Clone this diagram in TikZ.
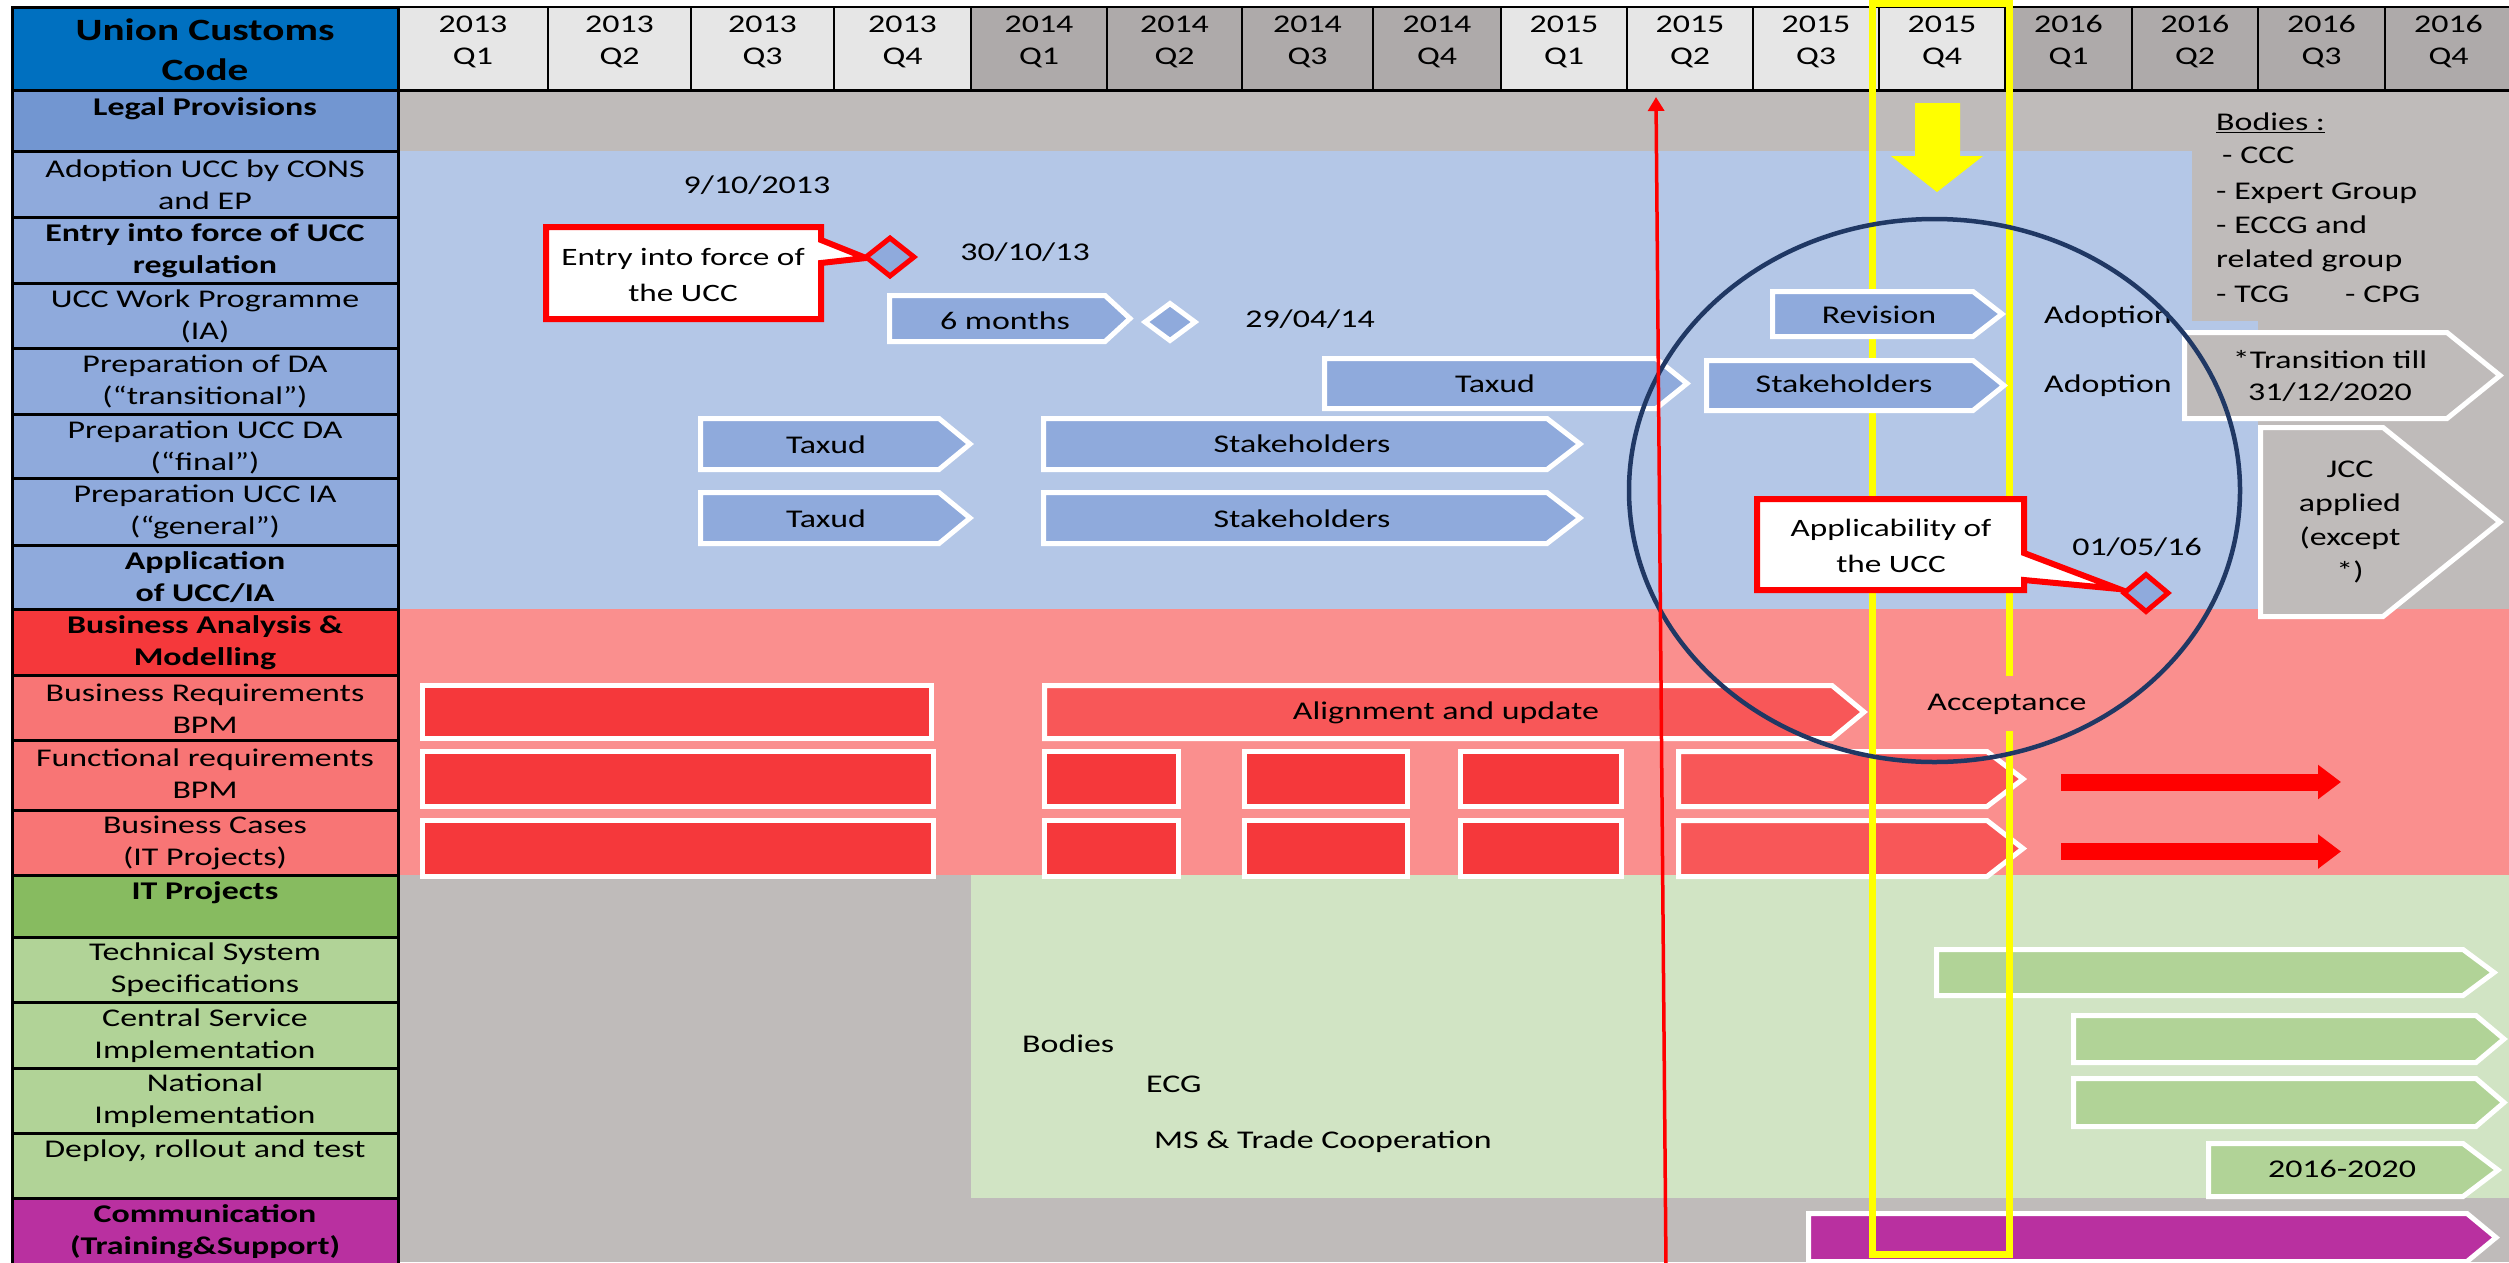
\documentclass[tikz,border=0pt]{standalone}
\usepackage{fontspec}
\setmainfont{Carlito}[FakeStretch=1.33]
\usetikzlibrary{shapes.geometric,arrows.meta}
\definecolor{bgrey}{RGB}{191,187,186}
\definecolor{bandblue}{RGB}{180,199,231}
\definecolor{arrblue}{RGB}{143,170,220}
\definecolor{hdrblue}{RGB}{0,112,192}
\definecolor{legalblue}{RGB}{114,150,209}
\definecolor{rowblue}{RGB}{143,170,220}
\definecolor{bandred}{RGB}{250,143,142}
\definecolor{barred}{RGB}{245,56,59}
\definecolor{penred}{RGB}{248,87,88}
\definecolor{rowred}{RGB}{248,117,117}
\definecolor{bandgreen}{RGB}{209,228,196}
\definecolor{pengreen}{RGB}{177,211,151}
\definecolor{itgreen}{RGB}{135,187,96}
\definecolor{purp}{RGB}{185,48,160}
\definecolor{lightcell}{RGB}{230,230,230}
\definecolor{darkcell}{RGB}{174,170,170}
\definecolor{navy}{RGB}{32,56,100}
\definecolor{yell}{RGB}{255,255,0}
\newcommand\lcell[7]{\draw[cellline, fill=#4] (12,#2) rectangle (398,#3); \node[txt,#6] (#1) at (205,#5) {#7};}
\newcommand\chev[6]{\draw[#1] (#2+2.5,#3+2.5) -- (#4-#6,#3+2.5) -- (#4-3,{(#3+#5)/2}) -- (#4-#6,#5-2.5) -- (#2+2.5,#5-2.5) -- cycle;}
\newcommand\rbar[4]{\draw[wbox, fill=barred] (#1+2.5,#2+2.5) rectangle (#3-2.5,#4-2.5);}
\begin{document}
\begin{tikzpicture}[x=1pt,y=-1pt,
  txt/.style={font=\fontsize{25.5}{32}\selectfont, inner sep=0, align=center, text=black},
  bftxt/.style={font=\bfseries\fontsize{25.5}{32}\selectfont},
  one/.style={text height=18, text depth=3},
  cellline/.style={draw=black, line width=3},
  wbox/.style={draw=white, line width=5, line join=miter},
  callout/.style={fill=white, draw=red, line width=6, line join=miter},
  coltxt/.style={font=\fontsize{25}{36}\selectfont},
  dia/.style={diamond, line width=5, fill=arrblue, inner sep=0}]
\useasboundingbox (0,0) rectangle (2509,1262);
\fill[white] (0,0) rectangle (2509,1262);
% bands
\fill[bgrey] (398,90) rectangle (2509,1262);
\fill[bandblue] (398,151) rectangle (2192,609);
\fill[bandblue] (2192,321) rectangle (2258,609);
\fill[bandred] (398,609) rectangle (2509,875);
\fill[bandgreen] (971,875) rectangle (2509,1198);
% header columns
\foreach \a/\b/\yr/\q/\c [count=\i] in {398/548/2013/Q1/lightcell, 548/691/2013/Q2/lightcell, 691/834/2013/Q3/lightcell, 834/971/2013/Q4/lightcell, 971/1107/2014/Q1/darkcell, 1107/1242/2014/Q2/darkcell, 1242/1373/2014/Q3/darkcell, 1373/1501/2014/Q4/darkcell, 1501/1627/2015/Q1/lightcell, 1627/1753/2015/Q2/lightcell, 1753/1879/2015/Q3/lightcell, 1879/2005/2015/Q4/lightcell, 2005/2132/2016/Q1/darkcell, 2132/2258/2016/Q2/darkcell, 2258/2385/2016/Q3/darkcell, 2385/2512/2016/Q4/darkcell}
{ \draw[fill=\c, draw=black, line width=2] (\a,7) rectangle (\b,90);
  \node[txt] (hd\i) at ({(\a+\b)/2},42) {\yr\\\q}; }
\draw[line width=3] (398,90) -- (2509,90);
% left column
\lcell{lc0}{7}{90}{hdrblue}{50}{font=\bfseries\fontsize{31}{40}\selectfont}{Union Customs\\Code}
\lcell{lc1}{90}{151}{legalblue}{109}{bftxt}{Legal Provisions}
\lcell{lc2}{151}{217.5}{rowblue}{185}{}{Adoption UCC by CONS\\and EP}
\lcell{lc3}{217.5}{283}{rowblue}{251}{bftxt}{Entry into force of UCC\\regulation}
\lcell{lc4}{283}{348}{rowblue}{316}{}{UCC Work Programme\\(IA)}
\lcell{lc5}{348}{414}{rowblue}{381.5}{}{Preparation of DA\\(“transitional”)}
\lcell{lc6}{414}{478}{rowblue}{447}{}{Preparation UCC DA\\(“final”)}
\lcell{lc7}{478}{545}{rowblue}{512}{}{Preparation UCC IA\\(“general”)}
\lcell{lc8}{545}{609}{rowblue}{577}{bftxt}{Application\\of UCC/IA}
\lcell{lc9}{609}{675}{barred}{643}{bftxt}{Business Analysis \&\\Modelling}
\lcell{lc10}{675}{740}{rowred}{709}{}{Business Requirements\\BPM}
\lcell{lc11}{740}{810}{rowred}{774}{}{Functional requirements\\BPM}
\lcell{lc12}{810}{875}{rowred}{843}{}{Business Cases\\(IT Projects)}
\lcell{lc13}{875}{937}{itgreen}{893}{bftxt}{IT Projects}
\lcell{lc14}{937}{1002}{pengreen}{970}{}{Technical System\\Specifications}
\lcell{lc15}{1002}{1068}{pengreen}{1036}{}{Central Service\\Implementation}
\lcell{lc16}{1068}{1133}{pengreen}{1101}{}{National\\Implementation}
\lcell{lc17}{1133}{1198}{pengreen}{1151}{}{Deploy, rollout and test}
\lcell{lc18}{1198}{1275}{purp}{1232}{bftxt}{Communication\\(Training\&Support)}
% business analysis bars
\rbar{420}{683}{934}{741}
\chev{wbox, fill=penred}{1042}{683}{1867}{741}{35}
\node[txt, one] (al) at (1446,712) {Alignment and update};
\foreach \ya/\yb [count=\k] in {749/809, 818/879}{
  \rbar{420}{\ya}{936}{\yb}
  \rbar{1042}{\ya}{1181}{\yb}
  \rbar{1242}{\ya}{1410}{\yb}
  \rbar{1458}{\ya}{1624}{\yb}
  \chev{wbox, fill=penred}{1676}{\ya}{2026}{\yb}{39}
  \coordinate (ras\k) at (2061,{(\ya+\yb)/2+3});
  \coordinate (rae\k) at (2341,{(\ya+\yb)/2+3});
  \draw[red, line width=17, -{Triangle[length=23pt,width=33pt]}] (ras\k) -- (rae\k);
}
% IT projects
\chev{wbox, fill=pengreen}{1934}{947}{2497}{998}{34}
\chev{wbox, fill=pengreen}{2071}{1013}{2507}{1065}{31}
\chev{wbox, fill=pengreen}{2071}{1076}{2507}{1129}{31}
\chev{wbox, fill=pengreen}{2206}{1141}{2501}{1199}{38}
\node[txt, one] (dep) at (2342,1170) {2016-2020};
\node[txt, one, anchor=west] (g1) at (1022,1045) {Bodies};
\node[txt, one, anchor=west] (g2) at (1146,1085) {ECG};
\node[txt, one, anchor=west] (g3) at (1154,1141) {MS \& Trade Cooperation};
% communication
\chev{wbox, fill=purp}{1806}{1211}{2499}{1264}{32}
% yellow frame
\draw[yell, line width=7] (1872,3) rectangle (2009,1254);
\node[txt, one, fill=bandred, inner xsep=2, inner ysep=17] (acc) at (2007,703) {Acceptance};
% legal provisions area
\node[txt, one] (d1) at (757,186) {9/10/2013};
\draw[callout] (546,227) -- (821,227) -- (821,240) -- (866,258) -- (821,263) -- (821,319) -- (546,319) -- cycle;
\node[txt, coltxt] (co1) at (683,275) {Entry into force of\\the UCC};
\node[dia, draw=red, minimum width=50, minimum height=40] (dm1) at (890,257) {};
\node[txt, one] (d2) at (1025,253) {30/10/13};
\chev{wbox, fill=arrblue}{887}{293}{1133}{344}{28}
\node[txt, one] (six) at (1005,322) {6 months};
\node[dia, draw=white, minimum width=52, minimum height=39] (dm2) at (1170,322) {};
\node[txt, one] (d3) at (1310,320) {29/04/14};
\chev{wbox, fill=arrblue}{1770}{289}{2005}{339}{32}
\node[txt, one] (rev) at (1879,316) {Revision};
\node[txt, one] (ad1) at (2108,316) {Adoption};
\chev{wbox, fill=arrblue}{1322}{356}{1690}{411}{34}
\node[txt, one] (tx0) at (1495,385) {Taxud};
\chev{wbox, fill=arrblue}{1704}{358}{2007}{413}{34}
\node[txt, one] (st0) at (1844,385) {Stakeholders};
\node[txt, one] (ad2) at (2108,385) {Adoption};
\chev{wbox, fill=arrblue}{698}{416}{973}{472}{34}
\node[txt, one] (tx1) at (826,446) {Taxud};
\chev{wbox, fill=arrblue}{1041}{416}{1583}{472}{36}
\node[txt, one] (st1) at (1302,445) {Stakeholders};
\chev{wbox, fill=arrblue}{698}{490}{973}{546}{34}
\node[txt, one] (tx2) at (826,520) {Taxud};
\chev{wbox, fill=arrblue}{1041}{490}{1583}{546}{36}
\node[txt, one] (st2) at (1302,520) {Stakeholders};
\draw[callout] (1757,499) -- (2024,499) -- (2024,553) -- (2119,589) -- (2024,580) -- (2024,590) -- (1757,590) -- cycle;
\node[txt, coltxt] (co2) at (1891,546) {Applicability of\\the UCC};
\node[txt, one] (d4) at (2137,548) {01/05/16};
\node[dia, draw=red, minimum width=46, minimum height=39] (dm3) at (2146,593) {};
% grey pentagons and bodies
\chev{wbox, fill=bgrey}{2182}{330}{2503}{421}{56}
\node[txt] (tr) at (2330,376) {*Transition till\\31/12/2020};
\chev{wbox, fill=bgrey}{2258}{425}{2503}{619}{120}
\node[txt, font=\fontsize{25.5}{34}\selectfont] (jcc) at (2350,522) {JCC\\applied\\(except\\*)};
\node[txt, one, anchor=west] (b0) at (2216,123) {\underline{Bodies :}};
\node[txt, one, anchor=west] (b1) at (2222,156) {- CCC};
\node[txt, one, anchor=west] (b2) at (2216,192) {- Expert Group};
\node[txt, one, anchor=west] (b3) at (2216,226) {- ECCG and};
\node[txt, one, anchor=west] (b4) at (2216,260) {related group};
\node[txt, one, anchor=west] (b5) at (2216,295) {- TCG};
\node[txt, one, anchor=west] (b6) at (2345,295) {- CPG};
% ellipse
\node[ellipse, draw=navy, line width=4.5, minimum width=611, minimum height=543, inner sep=0] (circ) at (1934.5,490.5) {};
% yellow down arrow
\fill[yell] (1915,103) -- (1960,103) -- (1960,156) -- (1983,156) -- (1937,192) -- (1891,156) -- (1915,156) -- cycle;
% red vertical arrow
\coordinate (rvb) at (1666,1268);
\coordinate (rvt) at (1656,97);
\draw[red, line width=3.5, -{Triangle[length=14pt,width=16pt]}] (rvb) -- (rvt);
\end{tikzpicture}
\end{document}
